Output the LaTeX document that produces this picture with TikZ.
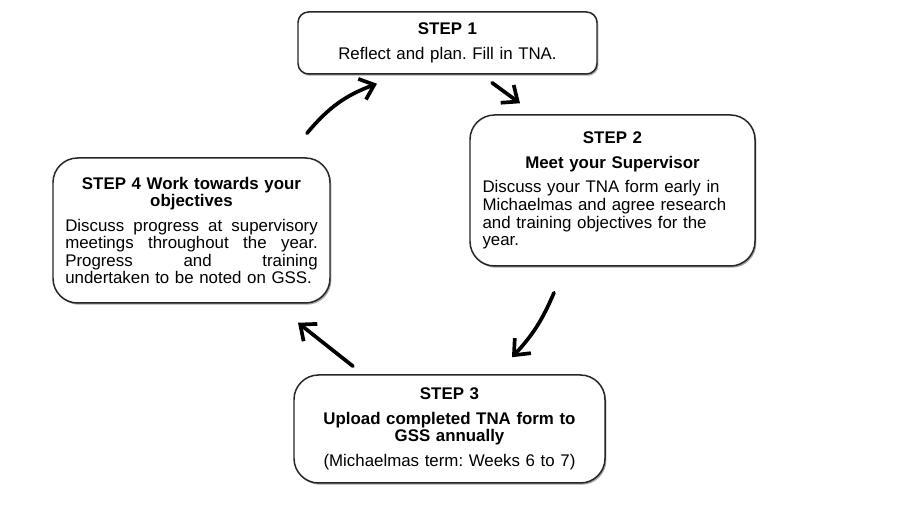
\documentclass[tikz,border=0pt]{standalone}
\usepackage{fontspec}
\setmainfont{Liberation Sans}
\usepackage{tikz}
\usetikzlibrary{arrows.meta,shadows,calc}
\frenchspacing
% one justified line of the step 4 box
\newcommand{\fullline}[1]{\makebox[5.05cm][s]{#1}}

\begin{document}
\begin{tikzpicture}[
    stepbox/.style={draw=black!85, line width=0.85pt, fill=white, rounded corners=14pt,
        inner sep=0pt, font=\fontsize{9.6}{10}\selectfont,
        drop shadow={shadow xshift=0.8pt, shadow yshift=-1pt, opacity=0.35, fill=black}},
    cycarrow/.style={-{Straight Barb[length=2.6mm,width=4.4mm]}, line width=2.1pt, line cap=round}
]
    % canvas
    \useasboundingbox[fill=white] (0,0) rectangle (18,10.4);

    % the four steps
    \node[stepbox, rounded corners=6pt, minimum width=5.98cm, minimum height=1.24cm, text width=5.5cm]
        (s1) at (8.95,9.54)
        {\centering\textbf{STEP 1}\\[4pt] Reflect and plan. Fill in TNA.\par};
    \node[stepbox, minimum width=5.7cm, minimum height=3.02cm, text width=5.2cm]
        (s2) at (12.25,6.59)
        {{\centering\bfseries STEP 2\\[4pt] Meet your Supervisor\par}\vspace{4pt}
         {\raggedright Discuss your TNA form early in\\ Michaelmas and agree research\\
          and training objectives for the\\ year.\par}};
    \node[stepbox, minimum width=6.22cm, minimum height=2.16cm, text width=5.9cm]
        (s3) at (8.99,1.82)
        {\centering\textbf{STEP 3}\\[4pt] \textbf{Upload completed TNA form to}\\
         \textbf{GSS annually}\\[4pt] (Michaelmas term: Weeks 6 to 7)\par};
    \node[stepbox, minimum width=5.54cm, minimum height=2.9cm, text width=5.05cm]
        (s4) at (3.83,5.79)
        {{\centering\bfseries STEP 4 Work towards your\\ objectives\par}\vspace{4pt}
         {\raggedright\noindent
          \fullline{Discuss\hfill progress\hfill at\hfill supervisory}\\
          \fullline{meetings\hfill throughout\hfill the\hfill year.}\\
          \fullline{Progress\hfill and\hfill training}\\
          undertaken to be noted on GSS.\par}};

    % cycle arrows
    \draw[cycarrow] ([shift={(2.31,0.48)}]s4.north) to[bend left=15] ([shift={(-1.41,-0.18)}]s1.south);
    \draw[cycarrow] ([shift={(0.89,-0.16)}]s1.south) -- ([shift={(-1.85,0.22)}]s2.north);
    \draw[cycarrow] ([shift={(-1.17,-0.52)}]s2.south) to[bend left=10] ([shift={(1.25,0.34)}]s3.north);
    \draw[cycarrow] ([shift={(-1.93,0.16)}]s3.north) -- ([shift={(2.13,-0.38)}]s4.south);
\end{tikzpicture}
\end{document}
